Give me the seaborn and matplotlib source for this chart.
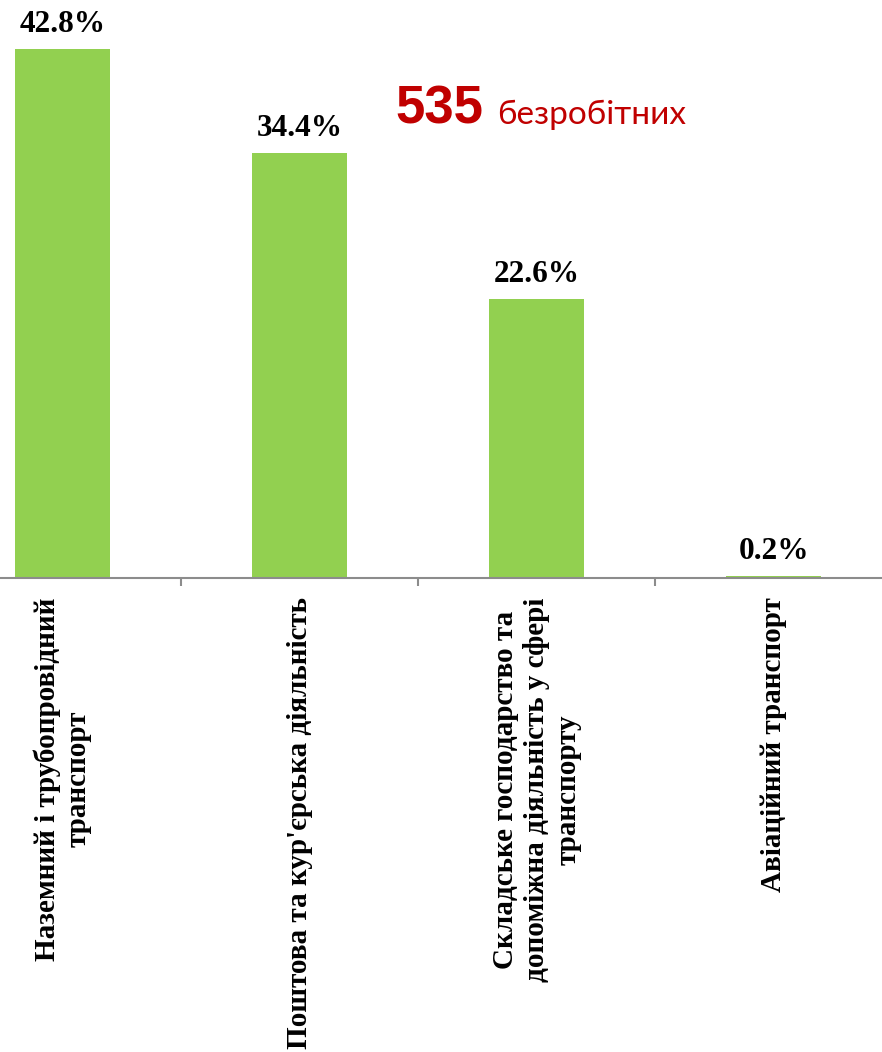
import matplotlib
matplotlib.use("Agg")
import matplotlib.pyplot as plt
import seaborn as sns
import pandas as pd

categories = [
    "Наземний і трубопровідний\nтранспорт",
    "Поштова та кур'єрська діяльність",
    "Складське господарство та\nдопоміжна діяльність у сфері\nтранспорту",
    "Авіаційний транспорт",
]
values = [42.8, 34.4, 22.6, 0.2]
total_number = "535"
total_text = "безробітних"

sns.set_theme(style="white")
plt.rcParams['font.family'] = ['Liberation Serif', 'DejaVu Serif']
plt.rcParams['text.color'] = 'black'
plt.rcParams['xtick.color'] = 'black'

W, H = 882, 1052
fig = plt.figure(figsize=(W / 100, H / 100), dpi=100)
left_px, right_px, base_px = -56, 892, 578
ax = fig.add_axes([left_px / W, (H - base_px) / H, (right_px - left_px) / W, base_px / H])

df = pd.DataFrame({"cat": categories, "val": values})
sns.barplot(data=df, x="cat", y="val", color="#92D050", width=0.4, saturation=1,
            ax=ax, edgecolor="none")
ax.set_ylim(0, base_px / 12.36)
ax.set_xlim(-0.5, len(categories) - 0.5)

for c in ax.containers:
    ax.bar_label(c, labels=[f"{v:.1f}%" for v in values], padding=7,
                 fontsize=22.5, fontweight="bold", color="black")

for s in ["top", "right", "left"]:
    ax.spines[s].set_visible(False)
ax.spines["bottom"].set_color("#8c8c8c")
ax.spines["bottom"].set_linewidth(1.5)
ax.set_yticks([])
ax.set_xlabel("")
ax.set_ylabel("")
ax.set_xticks(range(len(categories)))
ax.set_xticklabels(categories, rotation=90, va="top", ha="center",
                   multialignment="center", fontsize=21, fontweight="bold",
                   color="black")
ax.tick_params(axis="x", which="major", length=0, pad=14, labelcolor="black")
ax.set_xticks([0.5, 1.5, 2.5], minor=True)
ax.tick_params(axis="x", which="minor", length=6, width=1.5, color="#8c8c8c",
               direction="out", bottom=True)

fig.text(395 / W, 1 - 124 / H, total_number, color="#C00000", fontsize=38,
         fontweight="bold", family=["Liberation Sans"], ha="left", va="baseline")
fig.text(497 / W, 1 - 124 / H, total_text, color="#C00000", fontsize=24,
         family=["Lato", "DejaVu Sans"], ha="left", va="baseline")

fig.savefig("out.png", dpi=100)
